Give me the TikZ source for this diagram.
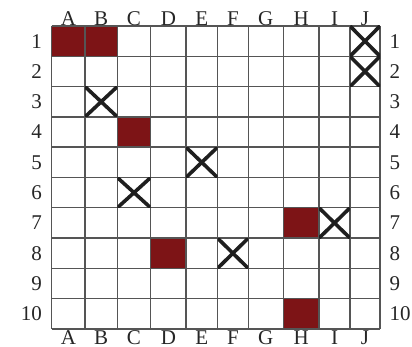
\documentclass[tikz,border=0pt]{standalone}
\usepackage{fontspec}
\setmainfont{Liberation Serif}
\definecolor{shipred}{RGB}{125,20,22}
\definecolor{gridgray}{RGB}{85,85,85}
\begin{document}
\begin{tikzpicture}[x=1pt,y=-1pt,
  lbl/.style={font=\fontsize{21}{21}\selectfont, inner sep=0pt, text=black!85},
  hit/.style={fill=shipred},
  miss/.style={line width=3.6pt, black!88},
  gridline/.style={draw=gridgray, line width=1.4pt}]
\useasboundingbox (0,0) rectangle (412,347);
% column and row boundaries
\foreach \i/\x in {0/51.7,1/85,2/117.3,3/150.7,4/186,5/217.5,6/248.3,7/283.3,8/319,9/350,10/380}
  \coordinate (v\i) at (\x,0);
\foreach \j in {0,...,10}
  \coordinate (h\j) at (0,{26+30.3*\j});
% hits
\foreach \a/\b/\c/\d in {0/2/0/1, 2/3/3/4, 7/8/6/7, 3/4/7/8, 7/8/9/10}
  \fill[hit] (v\a |- h\c) rectangle (v\b |- h\d);
% grid
\foreach \i in {0,...,10} \draw[gridline] (v\i |- h0) -- (v\i |- h10);
\foreach \j in {0,...,10} \draw[gridline] (v0 |- h\j) -- (v10 |- h\j);
% misses
\foreach \a/\b/\c/\d in {9/10/0/1, 9/10/1/2, 1/2/2/3, 4/5/4/5, 2/3/5/6, 8/9/6/7, 5/6/7/8}{
  \begin{scope}
    \clip (v\a |- h\c) rectangle (v\b |- h\d);
    \draw[miss] (v\a |- h\c) -- (v\b |- h\d);
    \draw[miss] (v\b |- h\c) -- (v\a |- h\d);
  \end{scope}
}
% column labels
\foreach \l/\a/\b in {A/51.7/85,B/85/117.3,C/117.3/150.7,D/150.7/186,E/186/217.5,F/217.5/248.3,G/248.3/283.3,H/283.3/319,I/319/350,J/350/380}{
  \node[lbl, anchor=base] (top\l) at ({(\a+\b)/2},25.5) {\l};
  \node[lbl, anchor=base] (bot\l) at ({(\a+\b)/2},344.5) {\l};
}
% row labels
\foreach \n in {1,...,10}{
  \node[lbl, anchor=east] (left\n) at (42,{26+30.3*(\n-0.5)}) {\n};
  \node[lbl, anchor=west] (right\n) at (389.5,{26+30.3*(\n-0.5)}) {\n};
}
\end{tikzpicture}
\end{document}
